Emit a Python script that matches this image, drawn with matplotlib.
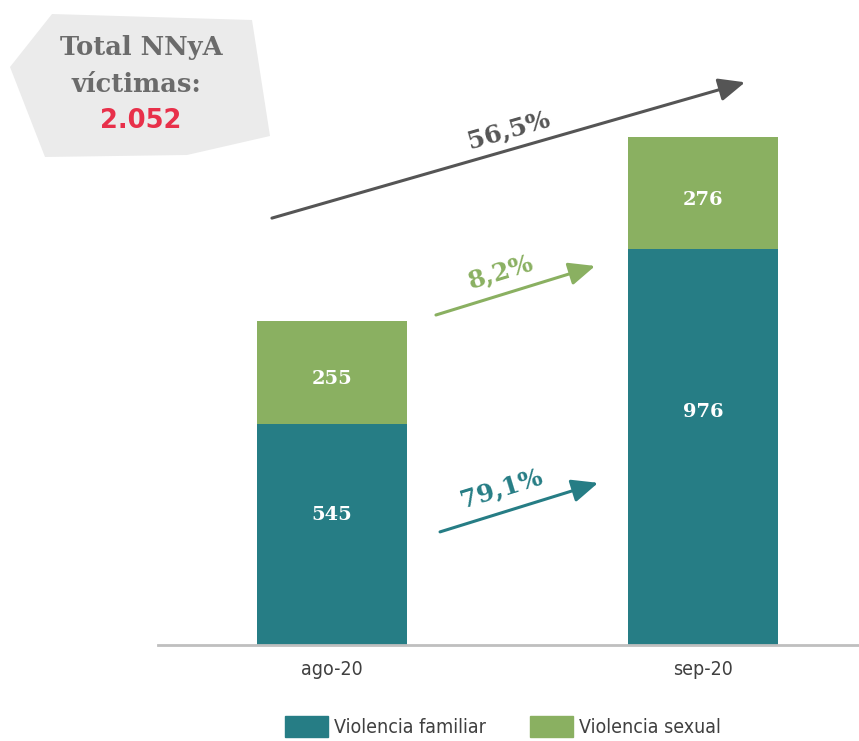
import matplotlib.pyplot as plt
from matplotlib.patches import Polygon, Patch

# datos
meses = ['ago-20', 'sep-20']
familiar = [545, 976]
sexual = [255, 276]

c_fam = '#267D85'
c_sex = '#8AB061'
c_gris = '#555555'
slab = 'DejaVu Serif'
cond = dict(family='DejaVu Sans', stretch='condensed')

totales = [f + s for f, s in zip(familiar, sexual)]


def pct(a, b):
    return '{:.1f}%'.format((b / a - 1) * 100).replace('.', ',')


fig = plt.figure(figsize=(8.59, 7.41), dpi=100)
ax = fig.add_axes([158 / 859, 96 / 741, 701 / 859, 645 / 741])

x = list(range(len(meses)))
ax.bar(x, familiar, width=0.404, color=c_fam)
ax.bar(x, sexual, width=0.404, bottom=familiar, color=c_sex)

for i in x:
    ax.text(i, familiar[i] * 0.59, str(familiar[i]), ha='center', va='center',
            color='white', fontsize=14, fontweight='bold', family=slab)
    ax.text(i, familiar[i] + sexual[i] * 0.44, str(sexual[i]), ha='center', va='center',
            color='white', fontsize=14, fontweight='bold', family=slab)

ax.set_xlim(-0.469, 1.42)
ax.set_ylim(0, 1591)
for s in ['top', 'right', 'left']:
    ax.spines[s].set_visible(False)
ax.spines['bottom'].set_color('#BFBFBF')
ax.spines['bottom'].set_linewidth(2)
ax.set_yticks([])
ax.set_xticks(x)
ax.set_xticklabels(meses, fontsize=14, color='#404040', **cond)
ax.tick_params(axis='x', length=0, pad=11)

# flechas de variacion
flechas = [
    ((-0.162, 1053), (1.113, 1388), c_gris, pct(totales[0], totales[1]), (0.475, 1270), 16),
    ((0.280, 814), (0.709, 935), c_sex, pct(sexual[0], sexual[1]), (0.455, 920), 17),
    ((0.291, 279), (0.717, 400), c_fam, pct(familiar[0], familiar[1]), (0.455, 386), 17),
]
for p0, p1, col, txt, pos, ang in flechas:
    ax.annotate('', xy=p1, xytext=p0,
                arrowprops=dict(arrowstyle='-|>,head_length=1.6,head_width=0.7',
                                color=col, lw=2.2, shrinkA=0, shrinkB=0))
    ax.text(pos[0], pos[1], txt, rotation=ang, ha='center', va='center',
            color=col, fontsize=18, fontweight='bold', family=slab,
            rotation_mode='anchor')

# recuadro total
pts = [(52, 14), (252, 20), (270, 136), (187, 155), (45, 157), (10, 67)]
fig.patches.append(Polygon([(px / 859, 1 - py / 741) for px, py in pts],
                           closed=True, transform=fig.transFigure,
                           facecolor='#EBEBEB', edgecolor='none', zorder=0))
fig.text(141 / 859, 1 - 48 / 741, 'Total NNyA', ha='center', va='center',
         fontsize=18.5, fontweight='bold', color='#6B6B6B', family=slab)
fig.text(136 / 859, 1 - 84 / 741, 'víctimas:', ha='center', va='center',
         fontsize=18.5, fontweight='bold', color='#6B6B6B', family=slab)
fig.text(141 / 859, 1 - 121 / 741, '{:,}'.format(sum(totales)).replace(',', '.'),
         ha='center', va='center', fontsize=18.5, fontweight='bold',
         color='#E8304A', family='DejaVu Sans')

handles = [Patch(color=c_fam, label='Violencia familiar'),
           Patch(color=c_sex, label='Violencia sexual')]
fig.legend(handles=handles, loc='upper left', bbox_to_anchor=(285 / 859, 1 - 716 / 741),
           ncol=2, frameon=False, borderpad=0, borderaxespad=0,
           handlelength=2.2, handleheight=1.3, handletextpad=0.3, columnspacing=2.3,
           prop=dict(size=14, **cond), labelcolor='#404040')

fig.savefig('out.png', dpi=100)
